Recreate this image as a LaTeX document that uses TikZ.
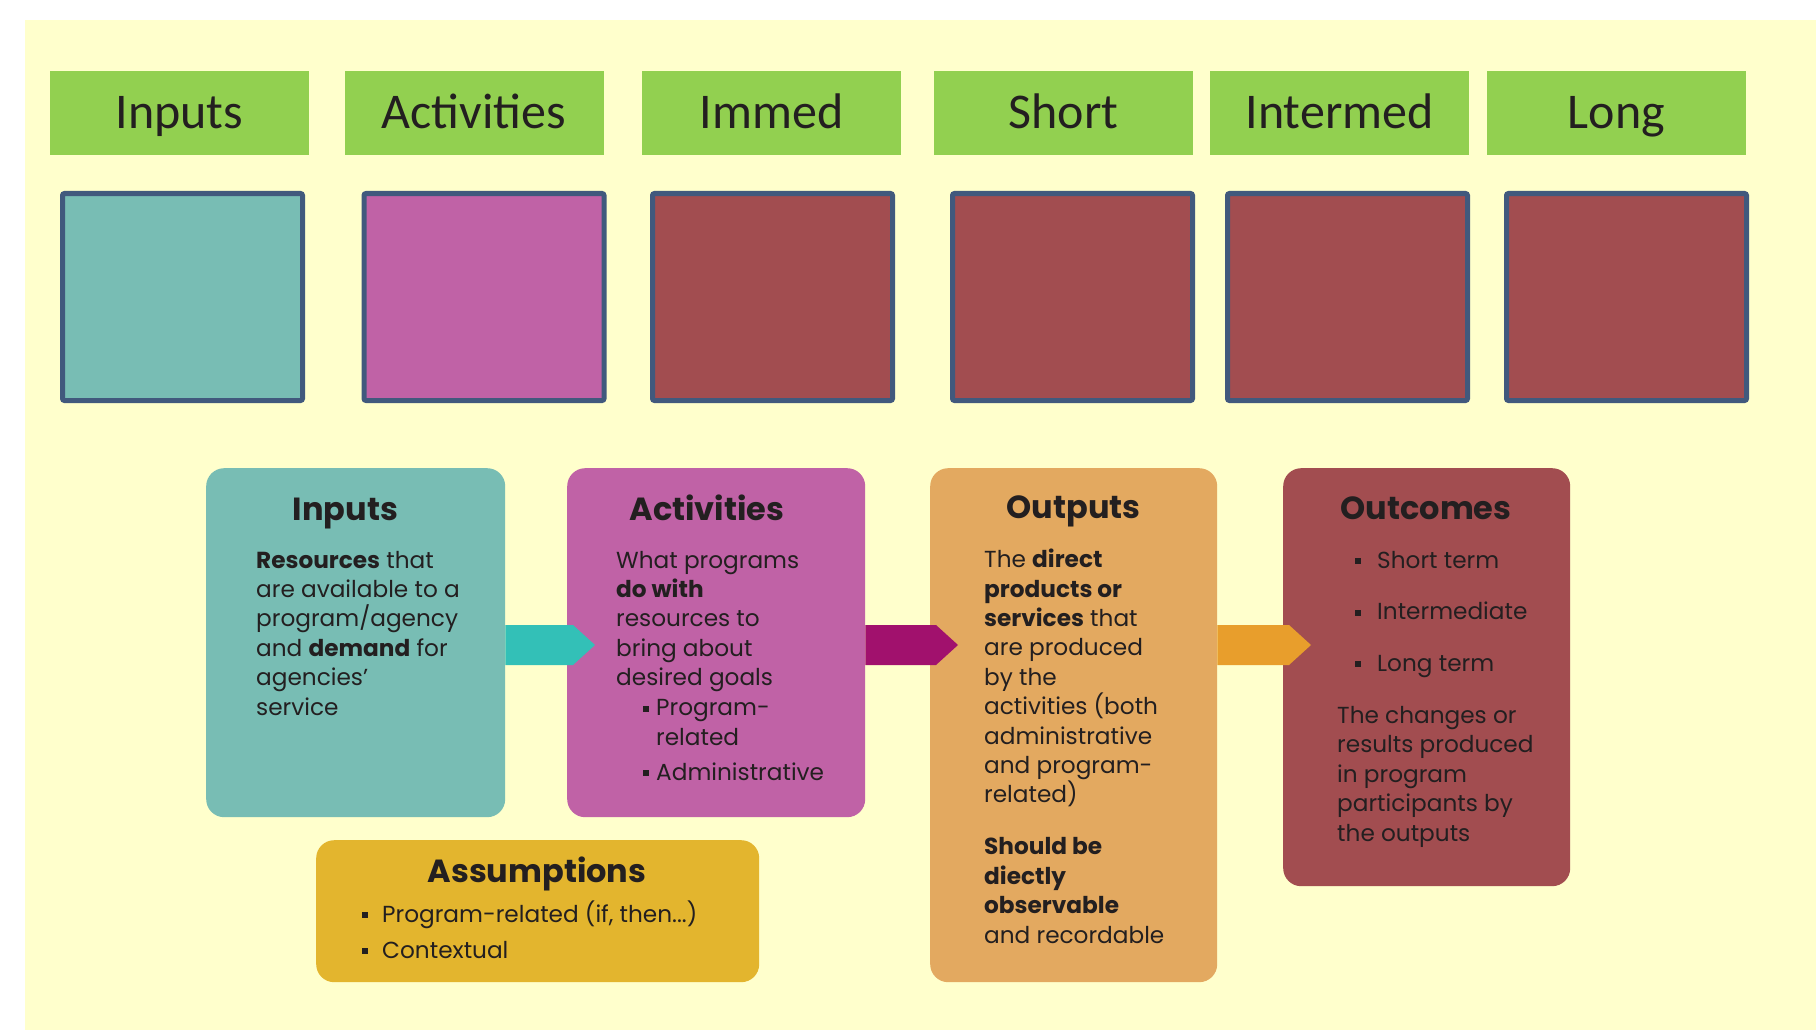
\documentclass[tikz,border=0pt]{standalone}
\usepackage{fontspec}
\setmainfont{Poppins}
\newfontfamily\hdfont{Carlito}
\usepackage{xcolor}
\usepackage{tikz}
\usetikzlibrary{calc}
\definecolor{bgyellow}{HTML}{FFFFCC}
\definecolor{headgreen}{HTML}{92D050}
\definecolor{tileborder}{HTML}{41597D}
\definecolor{tealtile}{HTML}{78BDB4}
\definecolor{pinktile}{HTML}{C062A6}
\definecolor{bricktile}{HTML}{A24D50}
\definecolor{sandcard}{HTML}{E3A960}
\definecolor{goldcard}{HTML}{E3B52E}
\definecolor{tealarrow}{HTML}{33C0B7}
\definecolor{magarrow}{HTML}{A1116D}
\definecolor{orgarrow}{HTML}{E89E2C}
\definecolor{inktext}{HTML}{231F20}
\tikzset{
  head/.style={fill=headgreen, minimum width=259pt, minimum height=84pt, inner sep=0pt,
    text height=32pt, text depth=0pt, text=inktext, font=\hdfont\fontsize{50}{60}\selectfont},
  tile/.style={draw=tileborder, line width=5pt, rounded corners=2pt,
    minimum width=240pt, minimum height=207pt, inner sep=0pt},
  card/.style={rounded corners=18pt, inner sep=0pt, anchor=north west},
  cardhead/.style={anchor=base, inner sep=0pt, text=inktext, font=\bfseries\fontsize{32}{38}\selectfont},
  % base of a multi-line node = baseline of its last line
  cardtext/.style={anchor=base west, inner sep=0pt, align=left, text=inktext, font=\fontsize{23.2}{29.4}\selectfont}
}
\newcommand\sqb{\rule[0.17em]{0.25em}{0.25em}}
\newcommand\bul[1]{\llap{\sqb\hspace{#1}}}
\newcommand\chev[3]{%
  \fill[#3] ($(#1.north east)+(0,157)$) -- ($(#2.north west)+(6,157)$)
    -- ($(#2.north west)+(28,177)$) -- ($(#2.north west)+(6,197)$)
    -- ($(#1.north east)+(0,197)$) -- cycle;}
\begin{document}
\begin{tikzpicture}[x=1pt,y=-1pt]
  \useasboundingbox (0,0) rectangle (1816,1030);
  \fill[white] (0,0) rectangle (1816,1030);
  \fill[bgyellow] (25,20) rectangle (1816,1030);

  % top row: labels and empty tiles
  \foreach \nm/\lbl/\hx/\tx/\col in {in/Inputs/179.5/182.5/tealtile, act/Activities/474/484/pinktile,
      imm/Immed/771.5/772.5/bricktile, sho/Short/1063.5/1072.5/bricktile,
      int/Intermed/1339.5/1347.5/bricktile, lon/Long/1616.5/1626.5/bricktile} {
    \node[head] (h\nm) at (\hx,113) {\lbl};
    \node[tile, fill=\col] (t\nm) at (\tx,297) {};
  }

  % cards
  \node[card, fill=tealtile, minimum width=299pt, minimum height=349pt] (cIn) at (206,468) {};
  \node[card, fill=pinktile, minimum width=298pt, minimum height=349pt] (cAct) at (567,468) {};
  \node[card, fill=sandcard, minimum width=287pt, minimum height=514pt] (cOut) at (930,468) {};
  \node[card, fill=bricktile, minimum width=287pt, minimum height=418pt] (cOc) at (1283,468) {};
  \node[card, fill=goldcard, minimum width=443pt, minimum height=142pt] (cAs) at (316,840) {};

  \node[cardhead] (cInT) at (345.5,520) {Inputs};
  \node[cardtext] (cInB) at (256,715) {\textbf{Resources} that\\are available to a\\program/agency\\and \textbf{demand} for\\agencies\symbol{39}\\service};

  \node[cardhead] (cActT) at (707,520) {Activities};
  \node[cardtext] (cActB) at (616,685.6) {What programs\\\textbf{do with}\\resources to\\bring about\\desired goals};
  \node[cardtext] (cActL) at (656,780) {\bul{7pt}Program-\\related\\[5.6pt]\bul{7pt}Administrative};

  \node[cardhead] (cOutT) at (1073.5,518) {Outputs};
  \node[cardtext] (cOutB) at (984,943) {The \textbf{direct}\\\textbf{products or}\\\textbf{services} that\\are produced\\by the\\activities (both\\administrative\\and program-\\related)\\[22.6pt]\textbf{Should be}\\\textbf{diectly}\\\textbf{observable}\\and recordable};

  \node[cardhead] (cOcT) at (1426,519) {Outcomes};
  \node[cardtext] (cOcL) at (1377,671) {\bul{16pt}Short term\\[22pt]\bul{16pt}Intermediate\\[22pt]\bul{16pt}Long term};
  \node[cardtext] (cOcB) at (1337,841) {The changes or\\results produced\\in program\\participants by\\the outputs};

  \node[cardhead] (cAsT) at (537,882) {Assumptions};
  \node[cardtext] (cAsL) at (382,958) {\bul{14pt}Program-related (if, then...)\\[6.6pt]\bul{14pt}Contextual};

  % arrows between cards
  \chev{cIn}{cAct}{tealarrow}
  \chev{cAct}{cOut}{magarrow}
  \chev{cOut}{cOc}{orgarrow}
\end{tikzpicture}
\end{document}
